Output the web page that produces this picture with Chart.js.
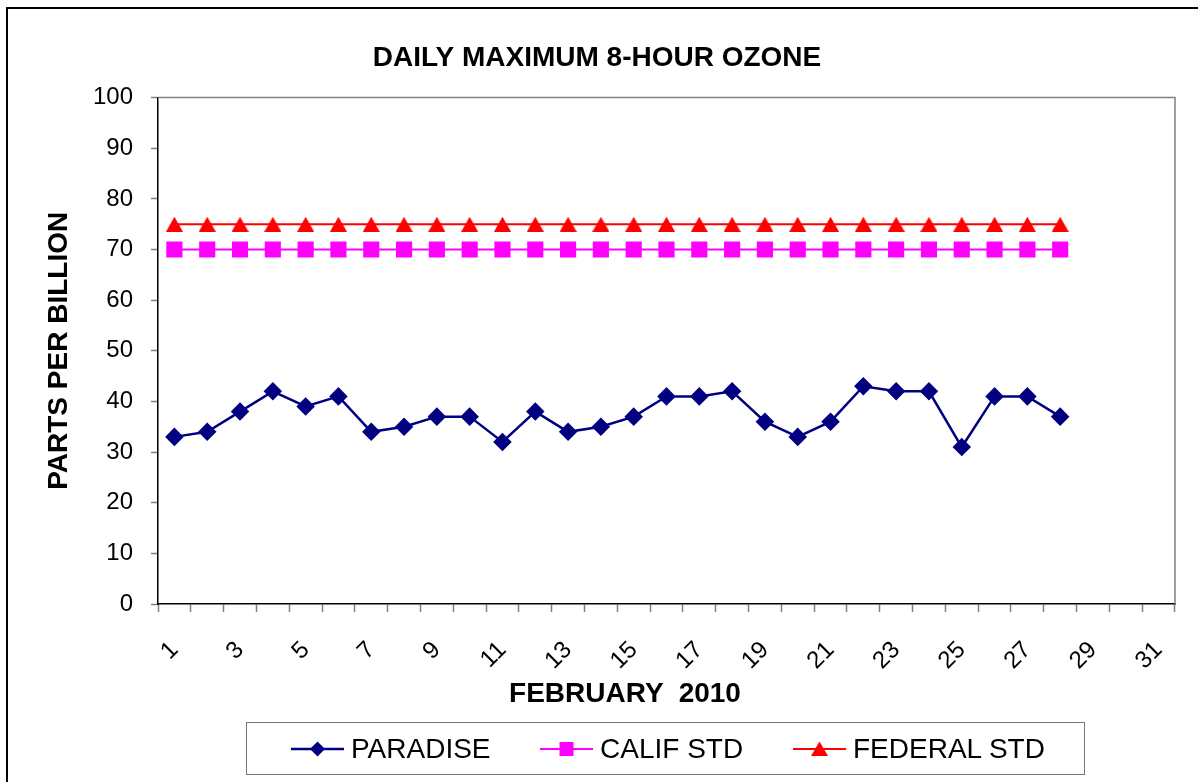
<!DOCTYPE html>
<html>
<head>
<meta charset="utf-8">
<script src="https://cdn.jsdelivr.net/npm/chart.js@4.4.0/dist/chart.umd.min.js"></script>
<style>
  html, body { margin: 0; padding: 0; background: #fff; }
  body { width: 1198px; height: 782px; position: relative; overflow: hidden; font-family: "Liberation Sans", Arial, sans-serif; }
  #moldura { position: absolute; left: 6px; top: 7px; width: 1400px; height: 1000px; border-left: 2px solid #000; border-top: 2px solid #000; }
  #grafico { position: absolute; left: 0; top: 0; }
  #titulo-x { position: absolute; top: 679px; left: 625px; transform: translateX(-50%); font-weight: bold; font-size: 28px; line-height: 28px; white-space: pre; color: #000; }
  #legenda { position: absolute; left: 246px; top: 722px; width: 837px; height: 51px; border: 1.5px solid #777; }
  .item { position: absolute; top: 0; height: 51px; display: flex; align-items: center; font-size: 28px; line-height: 28px; color: #000; }
  .item svg { margin-right: 7px; }
</style>
</head>
<body>
<div id="moldura"></div>
<canvas id="grafico" width="1198" height="782"></canvas>
<div id="titulo-x">FEBRUARY  2010</div>
<div id="legenda"></div>

<script>
// ============================
// Dados do gráfico
// ============================
const dias = ['1', '2', '3', '4', '5', '6', '7', '8', '9', '10', '11', '12', '13', '14', '15', '16',
  '17', '18', '19', '20', '21', '22', '23', '24', '25', '26', '27', '28', '29', '30', '31'];

const paradise = [33, 34, 38, 42, 39, 41, 34, 35, 37, 37, 32, 38, 34, 35, 37, 41, 41, 42, 36, 33, 36, 43, 42, 42, 31, 41, 41, 37];
const califStd = [70, 70, 70, 70, 70, 70, 70, 70, 70, 70, 70, 70, 70, 70, 70, 70, 70, 70, 70, 70, 70, 70, 70, 70, 70, 70, 70, 70];
const federalStd = [75, 75, 75, 75, 75, 75, 75, 75, 75, 75, 75, 75, 75, 75, 75, 75, 75, 75, 75, 75, 75, 75, 75, 75, 75, 75, 75, 75];

const nomesSeries = ['PARADISE', 'CALIF STD', 'FEDERAL STD'];
const coresSeries = ['#000080', '#FF00FF', '#FF0000'];

const fonte = '"Liberation Sans", Arial, sans-serif';

// ============================
// Marcador triângulo (centrado na linha)
// ============================
function criaTriangulo(cor) {
  const c = document.createElement('canvas');
  c.width = 17;
  c.height = 15;
  const ctx = c.getContext('2d');
  ctx.fillStyle = cor;
  ctx.beginPath();
  ctx.moveTo(8.5, 0);
  ctx.lineTo(17, 15);
  ctx.lineTo(0, 15);
  ctx.closePath();
  ctx.fill();
  return c;
}

// moldura cinza em cima e à direita da área do gráfico
const molduraPlot = {
  id: 'molduraPlot',
  beforeDatasetsDraw(chart) {
    const { ctx, chartArea: a } = chart;
    ctx.save();
    ctx.strokeStyle = '#808080';
    ctx.lineWidth = 1.5;
    ctx.beginPath();
    ctx.moveTo(a.left, a.top);
    ctx.lineTo(a.right, a.top);
    ctx.lineTo(a.right, a.bottom);
    ctx.stroke();
    ctx.restore();
  }
};

// ============================
// Gráfico
// ============================
const config = {
  type: 'line',
  data: {
    labels: dias,
    datasets: [
      {
        label: nomesSeries[0],
        data: paradise,
        borderColor: coresSeries[0],
        backgroundColor: coresSeries[0],
        borderWidth: 2.5,
        pointStyle: 'rectRot',
        pointRadius: 7.5,
        pointHoverRadius: 7.5,
        tension: 0
      },
      {
        label: nomesSeries[1],
        data: califStd,
        borderColor: coresSeries[1],
        backgroundColor: coresSeries[1],
        borderWidth: 2,
        pointStyle: 'rect',
        pointRadius: 10,
        pointHoverRadius: 10,
        tension: 0
      },
      {
        label: nomesSeries[2],
        data: federalStd,
        borderColor: coresSeries[2],
        backgroundColor: coresSeries[2],
        borderWidth: 2,
        pointStyle: criaTriangulo(coresSeries[2]),
        tension: 0
      }
    ]
  },
  options: {
    responsive: false,
    animation: false,
    layout: { padding: { left: 19, right: 23, top: 0, bottom: 0 } },
    plugins: {
      legend: { display: false },
      tooltip: { enabled: false },
      title: {
        display: true,
        text: 'DAILY MAXIMUM 8-HOUR OZONE',
        color: '#000',
        font: { family: fonte, size: 28, weight: 'bold' },
        padding: { top: 41, bottom: 23 }
      }
    },
    scales: {
      x: {
        offset: true,
        afterFit(scale) {
          scale.height = 178;
          // sem folga extra dos rótulos girados
          scale.paddingLeft = 0;
          scale.paddingRight = 0;
        },
        grid: { offset: true, drawOnChartArea: false, drawTicks: true, tickLength: 8, tickColor: '#808080', tickWidth: 1.5 },
        border: { color: '#000', width: 1.5 },
        ticks: {
          autoSkip: false,
          maxRotation: 45,
          minRotation: 45,
          padding: 24,
          color: '#000',
          font: { family: fonte, size: 24 },
          callback: function (val, idx) {
            return idx % 2 === 0 ? this.getLabelForValue(val) : '';
          }
        }
      },
      y: {
        min: 0,
        max: 100,
        afterFit(scale) { scale.width = 139; },
        grid: { drawOnChartArea: false, drawTicks: true, tickLength: 7, tickColor: '#808080', tickWidth: 1.5 },
        border: { color: '#000', width: 1.5 },
        ticks: {
          stepSize: 10,
          padding: 18,
          color: '#000',
          font: { family: fonte, size: 24 }
        },
        title: {
          display: true,
          text: 'PARTS PER BILLION',
          color: '#000',
          font: { family: fonte, size: 28, weight: 'bold' },
          padding: { top: 23, bottom: 0 }
        }
      }
    }
  },
  plugins: [molduraPlot]
};

const grafico = new Chart(document.getElementById('grafico').getContext('2d'), config);

// ============================
// Legenda (linha + marcador)
// ============================
const legendaEl = document.getElementById('legenda');
const posLegenda = [44, 293, 546];
const marcadores = [
  '<polygon points="26.5,2.5 34,10 26.5,17.5 19,10" />',
  '<rect x="19.5" y="3" width="14" height="14" />',
  '<polygon points="26.5,2.5 35,17 18,17" />'
];
const largLinha = [2.5, 2, 2];

nomesSeries.forEach((nome, i) => {
  const item = document.createElement('div');
  item.className = 'item';
  item.style.left = posLegenda[i] + 'px';
  item.innerHTML = `
    <svg width="53" height="20" viewBox="0 0 53 20">
      <line x1="0" y1="10" x2="53" y2="10" stroke="${coresSeries[i]}" stroke-width="${largLinha[i]}" />
      <g fill="${coresSeries[i]}">${marcadores[i]}</g>
    </svg>
    <span>${nome}</span>
  `;
  legendaEl.appendChild(item);
});
</script>
</body>
</html>
